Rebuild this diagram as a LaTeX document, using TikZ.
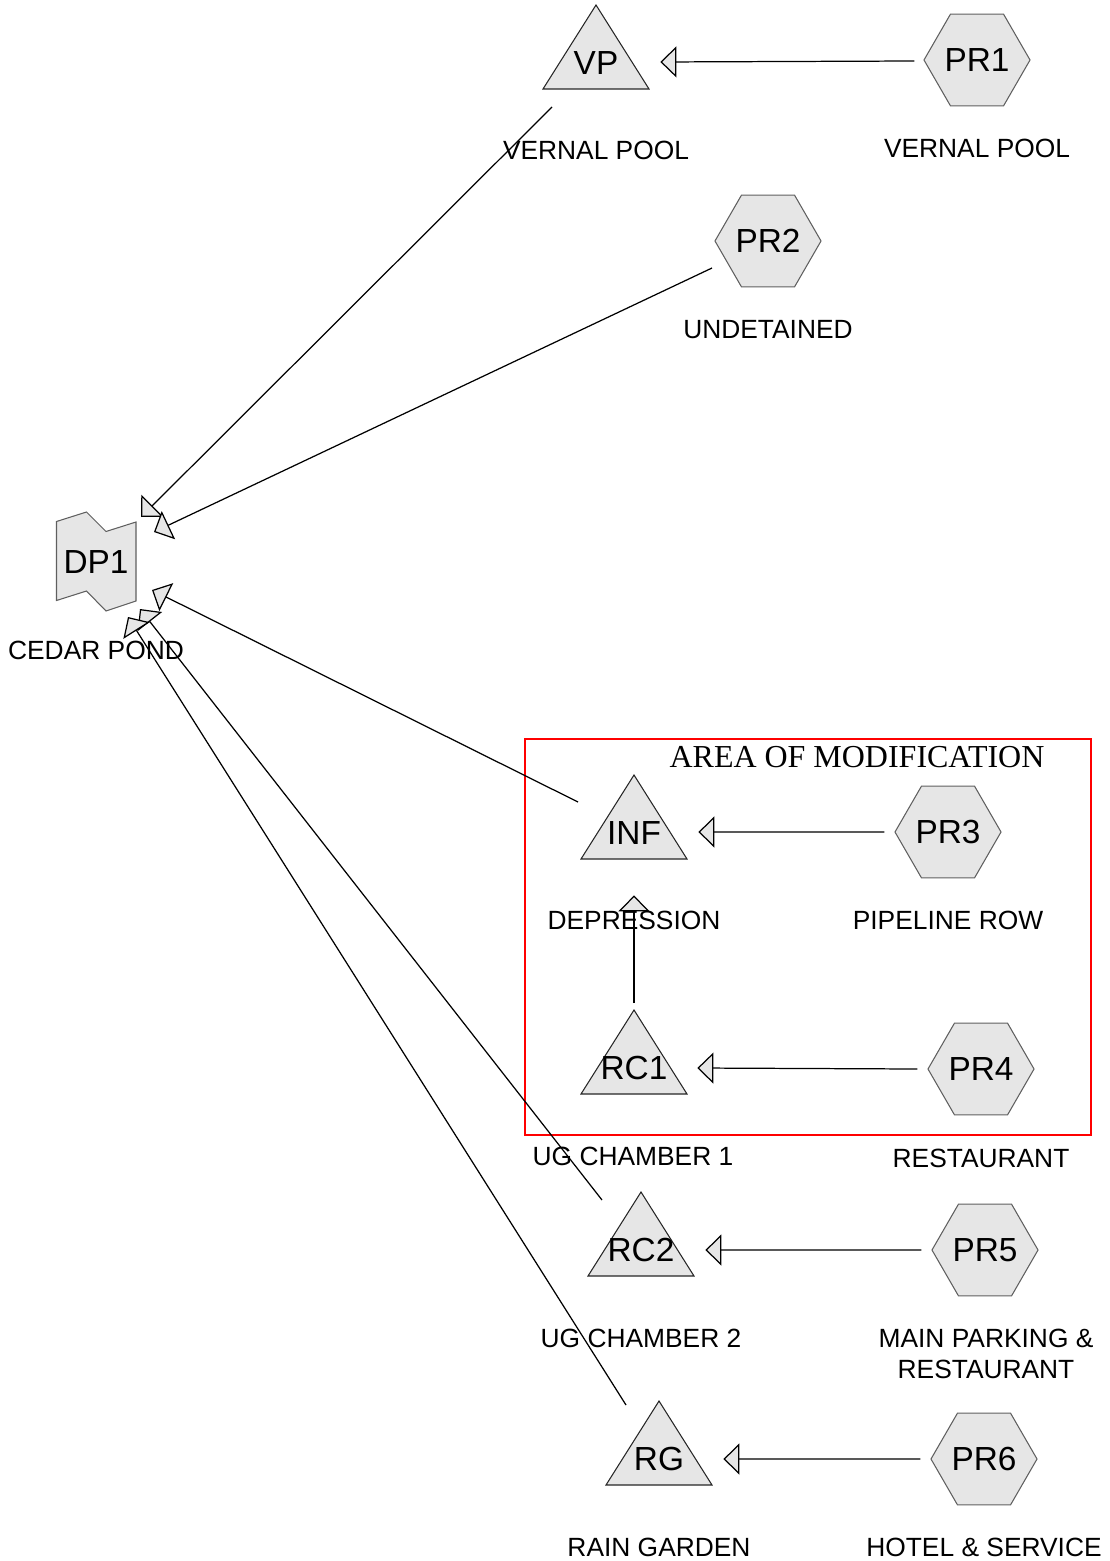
\documentclass[tikz,border=0pt]{standalone}
\usepackage{fontspec}
\setmainfont{Liberation Sans}
\newfontfamily\serifr{Liberation Serif}
\usetikzlibrary{shapes.geometric,arrows.meta}
\pgfdeclarelayer{bg}
\pgfsetlayers{bg,main}
\definecolor{fillc}{RGB}{230,230,230}
\definecolor{hexline}{RGB}{95,95,95}
\def\u{0.02cm}
\newcommand\bigf{\fontsize{19}{22}\selectfont}
\newcommand\capf{\fontsize{15}{18.1}\selectfont}
\begin{document}
\begin{tikzpicture}[x=0.02cm,y=-0.02cm,
  hexa/.style={regular polygon, regular polygon sides=6, minimum size={106*\u}, inner sep=0pt,
    fill=fillc, draw=hexline, line width=0.6pt, font=\bigf},
  tri/.style={rectangle, draw=none, minimum width={108*\u}, minimum height={120*\u}, inner sep=0pt, font=\bigf,
    append after command={\pgfextra{\begin{pgfonlayer}{bg}
      \draw[shift={(\tikzlastnode.center)}, fill=fillc, draw=black!85, line width=0.6pt]
      (0,-58) -- (53,26) -- (-53,26) -- cycle;\end{pgfonlayer}}}},
  dpshape/.style={rectangle, draw=none, minimum width={86*\u}, minimum height={106*\u}, inner sep=0pt, font=\bigf,
    append after command={\pgfextra{\begin{pgfonlayer}{bg}
      \draw[shift={(\tikzlastnode.center)}, fill=fillc, draw=hexline, line width=0.6pt]
      (-39.5,-40.5) -- (-9.5,-50) -- (10,-30.5) -- (40,-40) -- (40,39) -- (10,49) -- (-9.5,29) -- (-39.5,38.5) -- cycle;\end{pgfonlayer}}}},
  captxt/.style={font=\capf, inner sep=0pt, align=center},
  arr/.style={draw=black, line width=0.7pt, -{Triangle[length=0.32cm, width=0.62cm, fill=fillc]}}
]
\useasboundingbox (0,0) rectangle (1109,1561);

% area of modification
\node[draw=red, line width=1.1pt, minimum width={566*\u}, minimum height={396*\u}, inner sep=0pt] (area) at (808,937) {};
\node[font=\serifr\fontsize{18.2}{20}\selectfont, inner sep=0pt] (areatitle) at (857,757) {AREA OF MODIFICATION};

% hexagons
\node[hexa] (PR1) at (977,60) {PR1};
\node[hexa] (PR2) at (768,241) {PR2};
\node[hexa] (PR3) at (948,832) {PR3};
\node[hexa] (PR4) at (981,1069) {PR4};
\node[hexa] (PR5) at (985,1250) {PR5};
\node[hexa] (PR6) at (984,1459) {PR6};

% triangles
\node[tri] (VP) at (596,63) {VP};
\node[tri] (INF) at (634,833) {INF};
\node[tri] (RC1) at (634,1068) {RC1};
\node[tri] (RC2) at (641,1250) {RC2};
\node[tri] (RG) at (659,1459) {RG};

% pond
\node[dpshape] (DP1) at (96,562) {DP1};

% captions
\node[captxt] (VPcap) at (596,150) {VERNAL POOL};
\node[captxt] (PR1cap) at (977,148) {VERNAL POOL};
\node[captxt] (PR2cap) at (768,330) {UNDETAINED};
\node[captxt] (DP1cap) at (96,650) {CEDAR POND};
\node[captxt] (INFcap) at (634,920) {DEPRESSION};
\node[captxt] (PR3cap) at (948,920) {PIPELINE ROW};
\node[captxt] (RC1cap) at (633,1156) {UG CHAMBER 1};
\node[captxt] (PR4cap) at (981,1158) {RESTAURANT};
\node[captxt] (RC2cap) at (641,1338) {UG CHAMBER 2};
\node[captxt] (PR5cap) at (986,1354) {MAIN PARKING \&\\RESTAURANT};
\node[captxt] (RGcap) at (659,1547) {RAIN GARDEN};
\node[captxt] (PR6cap) at (984,1547) {HOTEL \& SERVICE};

% horizontal connectors
\draw[arr] ([shift={(-9,1)}]PR1.west) -- ([shift={(10,-1)}]VP.east);
\draw[arr] ([shift={(-10,0)}]PR3.west) -- ([shift={(10,-1)}]INF.east);
\draw[arr] ([shift={(-10,0)}]PR4.west) -- ([shift={(9,0)}]RC1.east);
\draw[arr] ([shift={(-10,0)}]PR5.west) -- ([shift={(10,0)}]RC2.east);
\draw[arr] ([shift={(-10,0)}]PR6.west) -- ([shift={(10,0)}]RG.east);
\draw[arr] ([shift={(0,-65)}]RC1.center) -- ([shift={(0,2)}]INF.south);

% connectors to the pond
\draw[arr] ([shift={(-44,44)}]VP.center) -- ([shift={(45,-45)}]DP1.center);
\draw[arr] ([shift={(-56,27)}]PR2.center) -- ([shift={(58,-30)}]DP1.center);
\draw[arr] ([shift={(-56,-31)}]INF.center) -- ([shift={(56,28)}]DP1.center);
\draw[arr] ([shift={(-39,-50)}]RC2.center) -- ([shift={(44,47)}]DP1.center);
\draw[arr] ([shift={(-33,-54)}]RG.center) -- ([shift={(32,55)}]DP1.center);
\end{tikzpicture}
\end{document}
